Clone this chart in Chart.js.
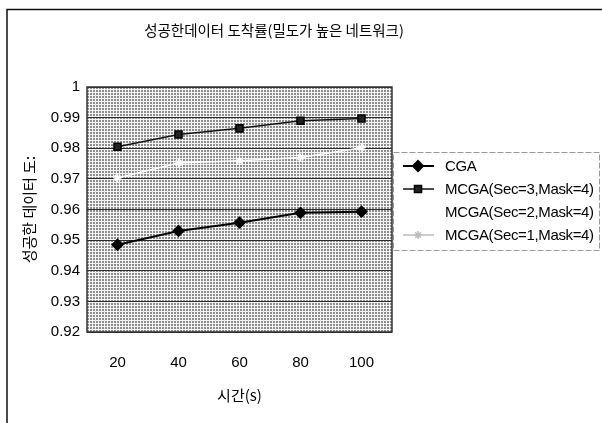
<!DOCTYPE html>
<html>
<head>
<meta charset="utf-8">
<script src="https://cdn.jsdelivr.net/npm/chart.js@4.4.1/dist/chart.umd.min.js"></script>
<style>
  html, body { margin: 0; padding: 0; background: #fff; }
</style>
</head>
<body>
<canvas id="arrival-chart" width="602" height="423"></canvas>
<script>
// data
const chartTitle = "성공한데이터 도착률(밀도가 높은 네트워크)";
const xTitle = "시간(s)";
const yTitle = "성공한 데이터 도:";
const times = ["20", "40", "60", "80", "100"];
const yMin = 0.92, yMax = 1, yStep = 0.01;

const seriesNames = ["CGA", "MCGA(Sec=3,Mask=4)", "MCGA(Sec=2,Mask=4)", "MCGA(Sec=1,Mask=4)"];
const cga   = [0.9485, 0.9530, 0.9557, 0.9589, 0.9593];
const mcga3 = [0.9805, 0.9845, 0.9865, 0.9890, 0.9897];
const mcga2 = [0.9805, 0.9845, 0.9865, 0.9890, 0.9897];
const mcga1 = [0.9703, 0.9752, 0.9759, 0.9770, 0.9802];

const numFont = "'Liberation Sans', Arial, sans-serif";
const krFont = "'Noto Sans CJK KR', 'Noto Sans', sans-serif";

// halftone-ish gray fill for the plot area
function makePattern(ctx) {
  const t = document.createElement("canvas");
  t.width = 3; t.height = 3;
  const c = t.getContext("2d");
  c.fillStyle = "#f4f4f4";
  c.fillRect(0, 0, 3, 3);
  c.fillStyle = "#8c8c8c";
  c.fillRect(0, 0, 2, 2);
  return ctx.createPattern(t, "repeat");
}

const framePlugin = {
  id: "frame",
  beforeDraw(chart) {
    const { ctx, chartArea: a } = chart;
    ctx.save();
    ctx.fillStyle = "#fff";
    ctx.fillRect(0, 0, chart.width, chart.height);
    ctx.fillStyle = makePattern(ctx);
    ctx.fillRect(a.left, a.top, a.right - a.left, a.bottom - a.top);
    ctx.restore();
  },
  afterDraw(chart) {
    const { ctx, chartArea: a } = chart;
    ctx.save();
    // plot border
    ctx.strokeStyle = "#333";
    ctx.lineWidth = 1.5;
    ctx.strokeRect(a.left, a.top, a.right - a.left, a.bottom - a.top);

    // outer frame (right / bottom edges are cropped in the original)
    ctx.strokeStyle = "#111";
    ctx.lineWidth = 1.5;
    ctx.beginPath();
    ctx.moveTo(7, chart.height + 2);
    ctx.lineTo(7, 9.5);
    ctx.lineTo(chart.width + 2, 9.5);
    ctx.stroke();

    // title
    ctx.fillStyle = "#000";
    ctx.font = "14.5px " + krFont;
    ctx.textAlign = "center";
    ctx.textBaseline = "middle";
    ctx.fillText(chartTitle, 274, 30);

    // legend
    const bx = 393, by = 152, bw = 206, bh = 98;
    ctx.strokeStyle = "#9a9a9a";
    ctx.lineWidth = 1;
    ctx.setLineDash([6, 2]);
    ctx.strokeRect(bx + 0.5, by + 0.5, bw, bh);
    ctx.setLineDash([]);
    const rows = [166, 189, 212, 235];
    chart.data.datasets.forEach((ds, i) => {
      const y = rows[i];
      ctx.strokeStyle = ds.legendColor || ds.borderColor;
      ctx.lineWidth = ds.borderWidth;
      ctx.beginPath();
      ctx.moveTo(403, y);
      ctx.lineTo(434, y);
      ctx.stroke();
      if (ds.pointRadius > 0) {
        ctx.fillStyle = ds.legendColor || ds.pointBackgroundColor;
        ctx.strokeStyle = ds.legendColor || ds.pointBorderColor;
        Chart.helpers.drawPoint(ctx, {
          pointStyle: ds.pointStyle,
          radius: ds.pointRadius,
          borderWidth: 1,
          rotation: 0
        }, 418, y);
      }
      ctx.fillStyle = "#000";
      ctx.font = "15px " + numFont;
      ctx.letterSpacing = "-0.35px";
      ctx.textAlign = "left";
      ctx.textBaseline = "middle";
      ctx.fillText(ds.label, 445, y + 1);
    });
    ctx.restore();
  }
};

const chart = new Chart(document.getElementById("arrival-chart"), {
  type: "line",
  data: {
    labels: times,
    datasets: [
      {
        label: seriesNames[0],
        data: cga,
        borderColor: "#000",
        borderWidth: 2,
        pointStyle: "rectRot",
        pointRadius: 5,
        pointBackgroundColor: "#000",
        pointBorderColor: "#000",
        tension: 0
      },
      {
        label: seriesNames[1],
        data: mcga3,
        borderColor: "#111",
        borderWidth: 1.5,
        pointStyle: "rect",
        pointRadius: 5,
        pointBackgroundColor: "#222",
        pointBorderColor: "#000",
        tension: 0
      },
      {
        label: seriesNames[2],
        data: mcga2,
        borderColor: "#ffffff",
        borderWidth: 1,
        pointRadius: 0,
        tension: 0
      },
      {
        label: seriesNames[3],
        data: mcga1,
        borderColor: "#ffffff",
        legendColor: "#bdbdbd",
        borderWidth: 1.5,
        pointStyle: "star",
        pointRadius: 4,
        pointBackgroundColor: "#fff",
        pointBorderColor: "#fff",
        tension: 0
      }
    ]
  },
  options: {
    responsive: false,
    animation: false,
    devicePixelRatio: 1,
    layout: { padding: { top: 87, right: 210, bottom: 0, left: 0 } },
    plugins: {
      legend: { display: false },
      title: { display: false },
      tooltip: { enabled: false }
    },
    scales: {
      x: {
        type: "category",
        offset: true,
        grid: { display: false, drawTicks: false },
        border: { display: false },
        ticks: {
          color: "#000",
          font: { family: numFont, size: 15 },
          padding: 22,
          maxRotation: 0
        },
        title: {
          display: true,
          text: xTitle,
          color: "#000",
          font: { family: krFont, size: 15 },
          padding: { top: 0, bottom: 19 }
        },
        afterFit(s) { s.height = 91; }
      },
      y: {
        min: yMin,
        max: yMax,
        grid: { color: "#2a2a2a", lineWidth: 1, drawTicks: false },
        border: { display: false },
        ticks: {
          stepSize: yStep,
          color: "#000",
          font: { family: numFont, size: 15 },
          padding: 7,
          callback: v => String(+v.toFixed(2))
        },
        title: {
          display: true,
          text: yTitle,
          color: "#000",
          font: { family: krFont, size: 15 },
          padding: { top: 20, bottom: 0 }
        },
        afterFit(s) { s.width = 87; }
      }
    }
  },
  plugins: [framePlugin]
});
</script>
</body>
</html>
